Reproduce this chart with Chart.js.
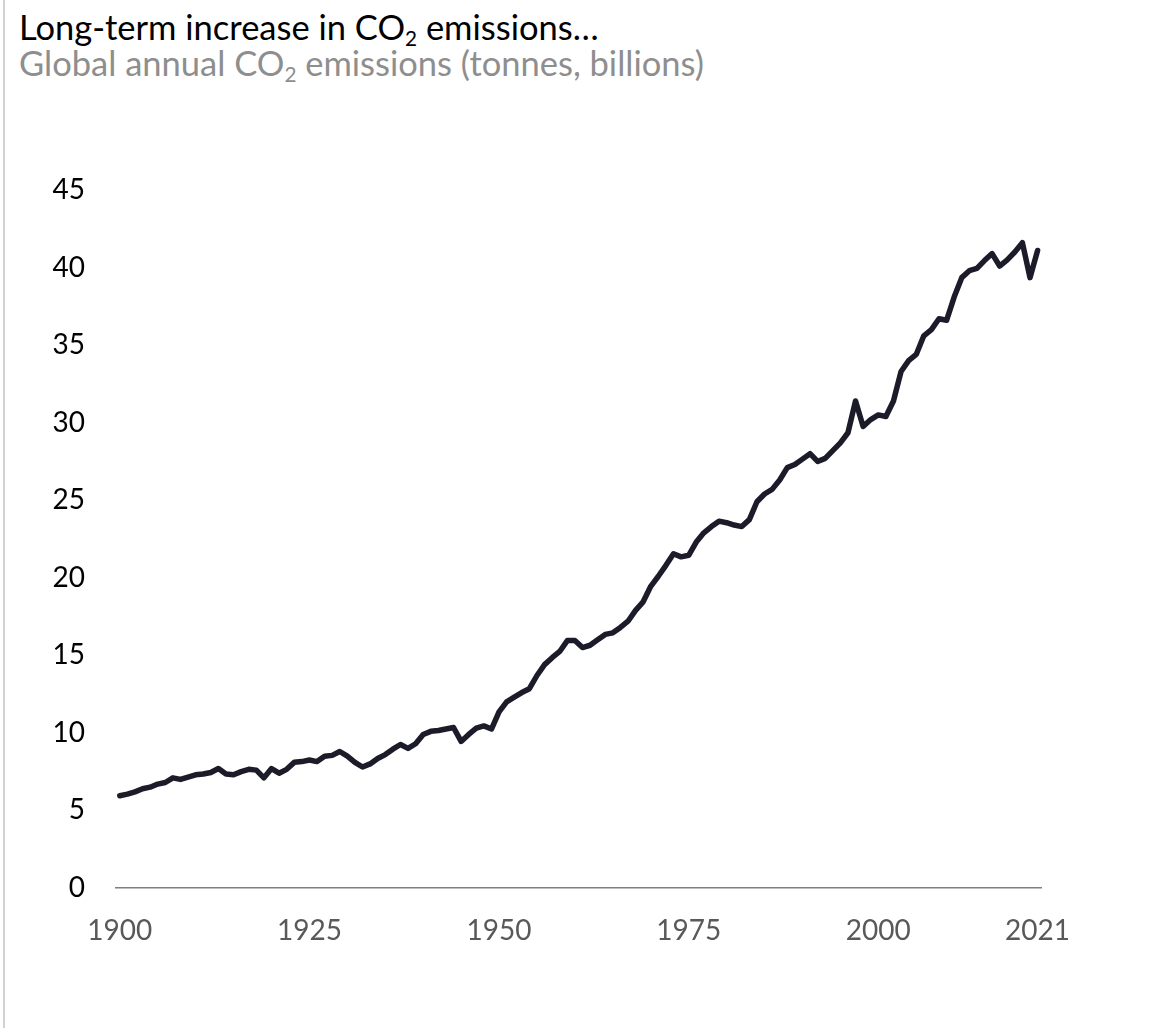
<!DOCTYPE html>
<html>
<head>
<meta charset="utf-8">
<script src="https://cdn.jsdelivr.net/npm/chart.js@4/dist/chart.umd.min.js"></script>
<style>
  html, body { margin: 0; padding: 0; background: #fff; }
  #frame {
    position: relative; width: 1158px; height: 1028px; overflow: hidden;
    font-family: Lato, "Open Sans", sans-serif;
  }
  #edge { position: absolute; left: 3px; top: 0; width: 2px; height: 1028px; background: #d2d2d2; }
  .head { position: absolute; left: 19px; white-space: nowrap; font-size: 34.5px; line-height: 1; }
  .head sub { font-size: 0.6em; vertical-align: -0.28em; line-height: 0; }
  #title { top: 10px; color: #000; }
  #subtitle { top: 46px; color: #8e8e8e; }
  #chartBox { position: absolute; left: 0; top: 0; width: 1158px; height: 1028px; }
</style>
</head>
<body>
<div id="frame">
  <div id="edge"></div>
  <div id="title" class="head">Long-term increase in CO<sub>2</sub> emissions…</div>
  <div id="subtitle" class="head">Global annual CO<sub>2</sub> emissions (tonnes, billions)</div>
  <div id="chartBox"><canvas id="chart"></canvas></div>
</div>
<script>
// Global annual CO2 emissions, billions of tonnes, one value per year from 1900
const FIRST_YEAR = 1900;
const emissions = [
  5.95, 6.05, 6.2, 6.4, 6.5, 6.7, 6.8, 7.1, 7.0, 7.15,        // 1900s
  7.3, 7.35, 7.45, 7.7, 7.35, 7.3, 7.5, 7.65, 7.6, 7.1,       // 1910s
  7.7, 7.4, 7.65, 8.1, 8.15, 8.25, 8.15, 8.5, 8.55, 8.8,      // 1920s
  8.5, 8.1, 7.8, 8.0, 8.35, 8.6, 8.95, 9.25, 9.0, 9.3,        // 1930s
  9.9, 10.1, 10.15, 10.25, 10.35, 9.45, 9.9, 10.3, 10.45, 10.25, // 1940s
  11.35, 12.0, 12.3, 12.6, 12.85, 13.7, 14.4, 14.85, 15.25, 15.95, // 1950s
  15.95, 15.5, 15.65, 16.0, 16.35, 16.45, 16.8, 17.2, 17.9, 18.45, // 1960s
  19.45, 20.1, 20.8, 21.55, 21.35, 21.45, 22.3, 22.9, 23.3, 23.65, // 1970s
  23.55, 23.4, 23.3, 23.75, 24.9, 25.4, 25.7, 26.3, 27.1, 27.3,  // 1980s
  27.65, 28.0, 27.5, 27.7, 28.2, 28.7, 29.35, 31.4, 29.75, 30.2, // 1990s
  30.5, 30.4, 31.4, 33.3, 34.0, 34.4, 35.6, 36.0, 36.7, 36.6,    // 2000s
  38.1, 39.35, 39.8, 39.95, 40.45, 40.9, 40.1, 40.5, 41.0, 41.6, // 2010s
  39.35, 41.1                                                    // 2020, 2021
];
const years = emissions.map((_, i) => FIRST_YEAR + i);
const xTickYears = [1900, 1925, 1950, 1975, 2000, 2021];
const yTickValues = [0, 5, 10, 15, 20, 25, 30, 35, 40, 45];

const points = years.map((yr, i) => ({ x: yr, y: emissions[i] }));

new Chart(document.getElementById('chart'), {
  type: 'line',
  data: {
    datasets: [{
      data: points,
      borderColor: '#1c1b29',
      borderWidth: 5.5,
      borderJoinStyle: 'round',
      borderCapStyle: 'round',
      pointRadius: 0,
      pointHoverRadius: 0,
      tension: 0,
      fill: false
    }]
  },
  options: {
    responsive: true,
    maintainAspectRatio: false,
    animation: false,
    events: [],
    layout: { padding: { left: 0, right: 117, top: 190, bottom: 80 } },
    plugins: { legend: { display: false }, tooltip: { enabled: false } },
    scales: {
      x: {
        type: 'linear',
        min: 1899.5,
        max: 2021.45,
        afterBuildTicks: (scale) => { scale.ticks = xTickYears.map(v => ({ value: v })); },
        afterFit: (scale) => { scale.height = 60; },
        grid: { display: false, drawTicks: false },
        border: { display: true, color: '#7f7f7f', width: 1.5 },
        ticks: {
          autoSkip: false,
          maxRotation: 0,
          padding: 26,
          color: '#595959',
          font: { family: 'Lato', size: 28 },
          callback: (v) => String(v)
        }
      },
      y: {
        min: 0,
        max: 45,
        afterBuildTicks: (scale) => { scale.ticks = yTickValues.map(v => ({ value: v })); },
        afterFit: (scale) => { scale.width = 116; },
        grid: { display: false, drawTicks: false },
        border: { display: false },
        ticks: {
          padding: 31,
          color: '#000',
          font: { family: 'Lato', size: 28 }
        }
      }
    }
  }
});
</script>
</body>
</html>
